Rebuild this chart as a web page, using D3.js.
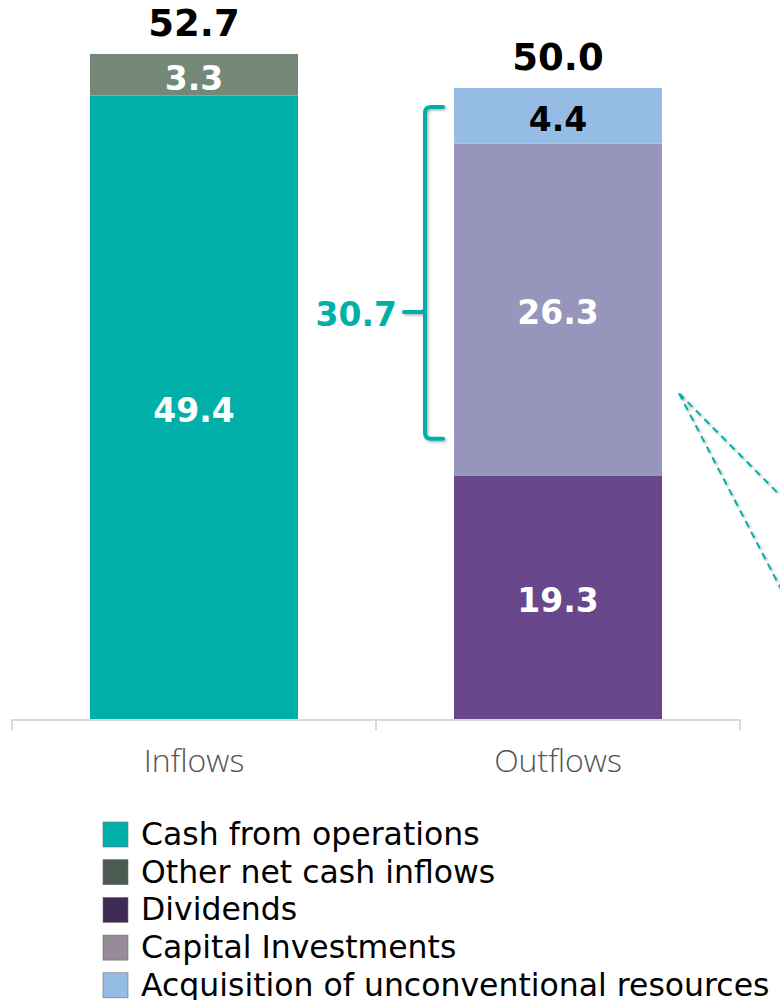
<!DOCTYPE html>
<html>
<head>
<meta charset="utf-8">
<script src="https://cdn.jsdelivr.net/npm/d3@7"></script>
<style>
  html, body { margin: 0; padding: 0; background: #fff; }
  svg { display: block; }
</style>
</head>
<body>
<svg id="chart" width="780" height="1000"></svg>
<script>
// Cash flow categories and stacked components (bottom to top)
const categories = ["Inflows", "Outflows"];
const inflowSeries = ["Cash from operations", "Other net cash inflows"];
const inflowValues = [49.4, 3.3];
const outflowSeries = ["Dividends", "Capital Investments", "Acquisition of unconventional resources"];
const outflowValues = [19.3, 26.3, 4.4];
const totals = [52.7, 50.0];

// Bracket annotation over investments + acquisitions
const bracketLabel = "30.7";
const bracketRange = [22.2, 48.5];
const bracketMid = 32.25;

// Legend entries
const legendLabels = ["Cash from operations", "Other net cash inflows", "Dividends", "Capital Investments", "Acquisition of unconventional resources"];
const legendColors = ["#00b0a8", "#4b5b52", "#3f2b56", "#968c99", "#95bde4"];

const segColors = {
  "Cash from operations": "#00b0a8",
  "Other net cash inflows": "#748878",
  "Dividends": "#68478c",
  "Capital Investments": "#9795bc",
  "Acquisition of unconventional resources": "#94bce4"
};
const labelColors = {
  "Acquisition of unconventional resources": "#000"
};

const svg = d3.select("#chart");
const baseY = 719;
const pxPerUnit = 12.62;

const x = d3.scaleBand()
  .domain(categories)
  .range([12, 740])
  .paddingInner(3 / 7)
  .paddingOuter(3 / 14);

const y = d3.scaleLinear()
  .domain([0, 55])
  .range([baseY, baseY - 55 * pxPerUnit]);

const defs = svg.append("defs");
const shadow = defs.append("filter").attr("id", "soft").attr("x", "-20%").attr("y", "-20%").attr("width", "140%").attr("height", "140%");
shadow.append("feDropShadow").attr("dx", 1.5).attr("dy", 1.5).attr("stdDeviation", 1.2)
  .attr("flood-color", "#000").attr("flood-opacity", 0.3);

// Build stacked segments
function stackOf(cat, names, vals) {
  let acc = 0;
  return names.map((n, i) => {
    const s = { cat, name: n, value: vals[i], y0: acc, y1: acc + vals[i] };
    acc += vals[i];
    return s;
  });
}
const segments = [
  ...stackOf(categories[0], inflowSeries, inflowValues),
  ...stackOf(categories[1], outflowSeries, outflowValues)
];

svg.append("g").selectAll("rect")
  .data(segments)
  .join("rect")
  .attr("x", d => x(d.cat))
  .attr("width", x.bandwidth())
  .attr("y", d => y(d.y1))
  .attr("height", d => y(d.y0) - y(d.y1))
  .attr("fill", d => segColors[d.name]);

// Segment value labels
svg.append("g").selectAll("text")
  .data(segments)
  .join("text")
  .attr("x", d => x(d.cat) + x.bandwidth() / 2)
  .attr("y", d => (y(d.y0) + y(d.y1)) / 2 + 3)
  .attr("dy", "0.36em")
  .attr("text-anchor", "middle")
  .attr("font-family", "DejaVu Sans, Verdana, sans-serif")
  .attr("font-weight", "bold")
  .attr("font-size", 33)
  .attr("fill", d => labelColors[d.name] || "#fff")
  .text(d => d.value.toFixed(1));

// Totals above bars
svg.append("g").selectAll("text")
  .data(categories.map((c, i) => ({ cat: c, total: totals[i] })))
  .join("text")
  .attr("x", d => x(d.cat) + x.bandwidth() / 2)
  .attr("y", d => y(d.total) - 18)
  .attr("text-anchor", "middle")
  .attr("font-family", "DejaVu Sans, Verdana, sans-serif")
  .attr("font-weight", "bold")
  .attr("font-size", 37)
  .attr("fill", "#000")
  .text(d => d.total.toFixed(1));

// Category axis with ticks at band edges
const axisG = svg.append("g");
const step = x.step();
const edges = [12, 12 + step, 12 + 2 * step];
axisG.append("line")
  .attr("x1", 12).attr("x2", 740)
  .attr("y1", baseY + 1).attr("y2", baseY + 1)
  .attr("stroke", "#d9d9d9").attr("stroke-width", 2);
axisG.selectAll(".tick")
  .data(edges)
  .join("line")
  .attr("x1", d => d).attr("x2", d => d)
  .attr("y1", baseY).attr("y2", baseY + 11)
  .attr("stroke", "#d9d9d9").attr("stroke-width", 2);
axisG.selectAll("text")
  .data(categories)
  .join("text")
  .attr("x", d => x(d) + x.bandwidth() / 2)
  .attr("y", 772)
  .attr("text-anchor", "middle")
  .attr("font-family", "Open Sans, Lato, sans-serif")
  .attr("font-weight", 300)
  .attr("font-size", 32)
  .attr("fill", "#555")
  .text(d => d);

// Bracket spanning the investment components
const bx = x(categories[1]) - 29;
const bTop = y(bracketRange[1]);
const bBot = y(bracketRange[0]);
const bMid = y(bracketMid);
const r = 6;
const bracketPath = [
  `M${bx + 18},${bTop}`,
  `L${bx + r},${bTop}`,
  `Q${bx},${bTop} ${bx},${bTop + r}`,
  `L${bx},${bBot - r}`,
  `Q${bx},${bBot} ${bx + r},${bBot}`,
  `L${bx + 18},${bBot}`,
  `M${bx},${bMid - 4}`,
  `Q${bx},${bMid} ${bx - 5},${bMid}`,
  `L${bx - 21},${bMid}`
].join(" ");
svg.append("path")
  .attr("d", bracketPath)
  .attr("fill", "none")
  .attr("stroke", "#00b0a8")
  .attr("stroke-width", 4)
  .attr("stroke-linecap", "round")
  .attr("filter", "url(#soft)");
svg.append("text")
  .attr("x", bx - 28)
  .attr("y", bMid + 2)
  .attr("dy", "0.36em")
  .attr("text-anchor", "end")
  .attr("font-family", "DejaVu Sans, Verdana, sans-serif")
  .attr("font-weight", "bold")
  .attr("font-size", 33)
  .attr("fill", "#00b0a8")
  .text(bracketLabel);

// Dashed callout lines leading off to the right
const ox = x(categories[1]) + x.bandwidth() + 17;
const oy = y(25.8);
const callouts = [[800, oy + 122], [800, oy + 232]];
svg.append("g").selectAll("line")
  .data(callouts)
  .join("line")
  .attr("x1", ox).attr("y1", oy)
  .attr("x2", d => d[0]).attr("y2", d => d[1])
  .attr("stroke", "#00b0a8")
  .attr("stroke-width", 2)
  .attr("stroke-dasharray", "7,5")
  .attr("filter", "url(#soft)");

// Legend
const legend = svg.append("g");
const legendTop = 822;
const legendStep = 37.7;
legendLabels.forEach((lab, i) => {
  const ly = legendTop + i * legendStep;
  legend.append("rect")
    .attr("x", 103).attr("y", ly)
    .attr("width", 25).attr("height", 25)
    .attr("fill", legendColors[i])
    .attr("stroke", "#6b6b6b").attr("stroke-width", 0.6);
  legend.append("text")
    .attr("x", 141)
    .attr("y", ly + 23)
    .attr("font-family", "DejaVu Sans, Verdana, sans-serif")
    .attr("font-size", 31.5)
    .attr("fill", "#000")
    .text(lab);
});
</script>
</body>
</html>
